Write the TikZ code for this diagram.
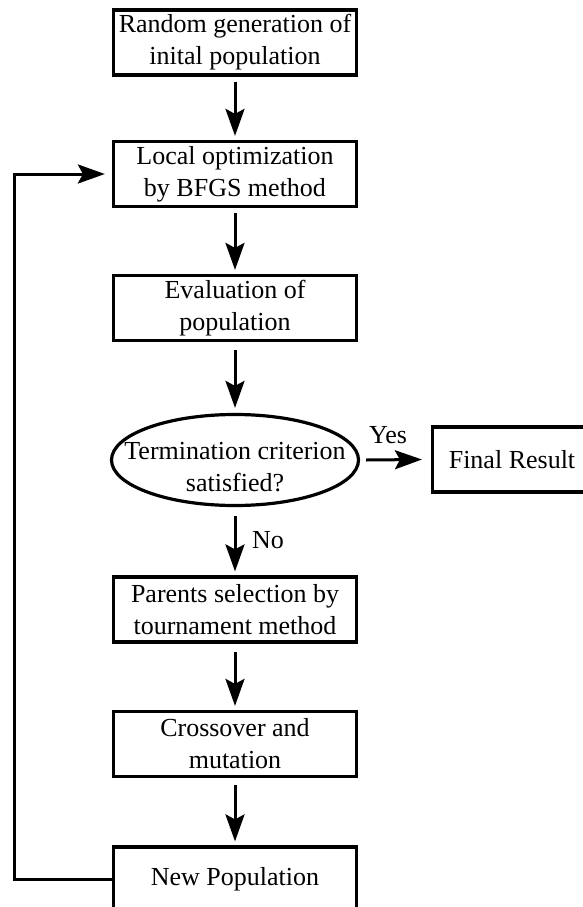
\documentclass[tikz,border=0pt]{standalone}
\usepackage{fontspec}
\setmainfont{Liberation Serif}
\usetikzlibrary{arrows.meta,shapes.geometric}
\begin{document}
\begin{tikzpicture}[x=1pt,y=-1pt,
 proc/.style={draw, line width=3.2pt, minimum width=243pt, minimum height=65pt, inner sep=0pt, align=center, font=\fontsize{26}{32}\selectfont},
 lbl/.style={inner sep=0pt, align=center, font=\fontsize{26}{32}\selectfont},
 flow/.style={line width=3pt, -{Stealth[length=27pt,width=19pt,inset=5pt]}}]
\useasboundingbox (0,0) rectangle (583,907);
\clip (0,0) rectangle (583,907);
\node[proc] (b1) at (235,42.5) {Random generation of\\inital population};
\node[proc] (b2) at (235,174) {Local optimization\\by BFGS method};
\node[proc] (b3) at (235,308) {Evaluation of\\population};
\node[draw, ellipse, line width=3.2pt, minimum width=247pt, minimum height=91pt, inner sep=0pt] (ell) at (235,460) {};
\node[lbl] (elltxt) at (235,467) {Termination criterion\\satisfied?};
\node[proc, minimum width=159pt] (fin) at (512,459.5) {Final Result};
\node[proc] (b4) at (235,609.5) {Parents selection by\\tournament method};
\node[proc] (b5) at (235,744) {Crossover and\\mutation};
\node[proc] (b6) at (235,879.5) {New Population};
\node[lbl] (yes) at (388,435) {Yes};
\node[lbl] (no) at (268,540) {No};
\coordinate (fl) at (14,0);
\draw[flow] ([yshift=-5pt]b1.south) -- ([yshift=4pt]b2.north);
\draw[flow] ([yshift=-5pt]b2.south) -- ([yshift=4pt]b3.north);
\draw[flow] ([yshift=-8pt]b3.south) -- ([yshift=5pt]ell.north);
\draw[flow] ([xshift=6pt]ell.east) -- ([xshift=-9pt]fin.west);
\draw[flow] ([yshift=-9pt]ell.south) -- ([yshift=4pt]b4.north);
\draw[flow] ([yshift=-8pt]b4.south) -- ([yshift=4pt]b5.north);
\draw[flow] ([yshift=-7pt]b5.south) -- ([yshift=4pt]b6.north);
\draw[flow] (b6.west) -- (b6.west -| fl) |- ([xshift=-7pt]b2.west);
\end{tikzpicture}
\end{document}
